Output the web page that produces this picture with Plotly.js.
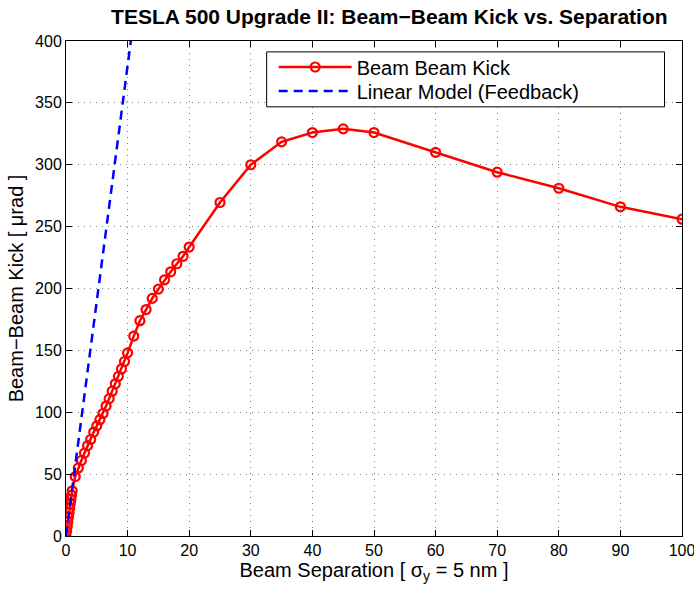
<!DOCTYPE html>
<html>
<head>
<meta charset="utf-8">
<script src="https://cdn.plot.ly/plotly-3.0.1.min.js"></script>
<style>body{margin:0;background:#fff}#chart{width:694px;height:591px}</style>
</head>
<body>
<div id="chart"></div>
<script>
// Beam-beam kick data (separation in units of sigma_y, kick in microrad)
const separation = [0, 0.1, 0.2, 0.3, 0.4, 0.5, 0.6, 0.7, 0.8, 0.9, 1.0,
  1.5, 2, 2.5, 3, 3.5, 4, 4.5, 5, 5.5, 6, 6.5, 7, 7.5, 8, 8.5, 9, 9.5, 10,
  11, 12, 13, 14, 15, 16, 17, 18, 19, 20,
  25, 30, 35, 40, 45, 50, 60, 70, 80, 90, 100];
const kick = [0, 3.8, 7.6, 11.4, 15.1, 18.8, 22.4, 26, 29.5, 33, 36.5,
  48, 55, 61, 67, 73, 78, 84, 89, 94, 99, 105, 111, 117, 123, 129, 135, 141, 148,
  161.5, 174, 183, 192, 199.5, 207, 213.5, 220, 226, 233.5,
  269.5, 300, 318.5, 326, 329, 326, 310, 294, 281, 266, 256];
// Linear model (feedback) endpoints
const linearX = [0, 11];
const linearY = [0, 418];

const xTicks = [0, 10, 20, 30, 40, 50, 60, 70, 80, 90, 100];
const yTicks = [0, 50, 100, 150, 200, 250, 300, 350, 400];

const font = 'Liberation Sans, Arial, Helvetica, sans-serif';

const traces = [
  {x: separation, y: kick, name: 'Beam Beam Kick', type: 'scatter', mode: 'lines+markers',
   legend: 'legend',
   line: {color: '#ff0000', width: 2.5},
   marker: {symbol: 'circle-open', size: 9, color: '#ff0000', line: {width: 2.2, color: '#ff0000'}}},
  {x: linearX, y: linearY, name: 'Linear Model (Feedback)', type: 'scatter', mode: 'lines',
   legend: 'legend2',
   line: {color: '#0000ff', width: 2.5, dash: '9px,6px'}}
];

const axisCommon = {
  showline: true, linecolor: '#000', linewidth: 1, mirror: 'ticks',
  ticks: 'inside', ticklen: 6, tickcolor: '#000', tickwidth: 1,
  showgrid: true, gridcolor: 'rgba(0,0,0,0.5)', gridwidth: 1, griddash: '1px,5px',
  zeroline: false, ticklabeloverflow: 'allow',
  tickfont: {family: font, size: 16, color: '#000'}
};

const legendCommon = {
  x: 0.3371, xanchor: 'left', yanchor: 'middle',
  bgcolor: 'rgba(0,0,0,0)', borderwidth: 0, itemwidth: 73,
  font: {family: font, size: 20, color: '#000'}
};

const layout = {
  width: 694, height: 591,
  margin: {l: 66, r: 12, t: 41, b: 55},
  paper_bgcolor: '#fff', plot_bgcolor: '#fff',
  showlegend: true,
  title: {text: '<b>TESLA 500 Upgrade II: Beam\u2212Beam Kick vs. Separation</b>',
          font: {family: font, size: 21, color: '#000'}, x: 0.561, xanchor: 'center', y: 0.972, yanchor: 'middle'},
  xaxis: Object.assign({}, axisCommon, {
    range: [0, 100], tickvals: xTicks,
    title: {text: 'Beam Separation [ \u03c3<sub>y</sub> = 5 nm ]', font: {family: font, size: 20, color: '#000'}, standoff: 4}
  }),
  yaxis: Object.assign({}, axisCommon, {
    range: [0, 400], tickvals: yTicks,
    title: {text: 'Beam\u2212Beam Kick [ \u03bcrad ]', font: {family: font, size: 20, color: '#000'}, standoff: 6}
  }),
  shapes: [{type: 'rect', xref: 'paper', yref: 'paper', layer: 'above',
            x0: 0.3257, x1: 0.9716, y0: 0.867, y1: 0.978,
            line: {color: '#000', width: 1}, fillcolor: '#fff'}],
  legend: Object.assign({}, legendCommon, {y: 0.9475}),
  legend2: Object.assign({}, legendCommon, {y: 0.8990})
};

Plotly.newPlot('chart', traces, layout, {displayModeBar: false, staticPlot: true});
</script>
</body>
</html>
